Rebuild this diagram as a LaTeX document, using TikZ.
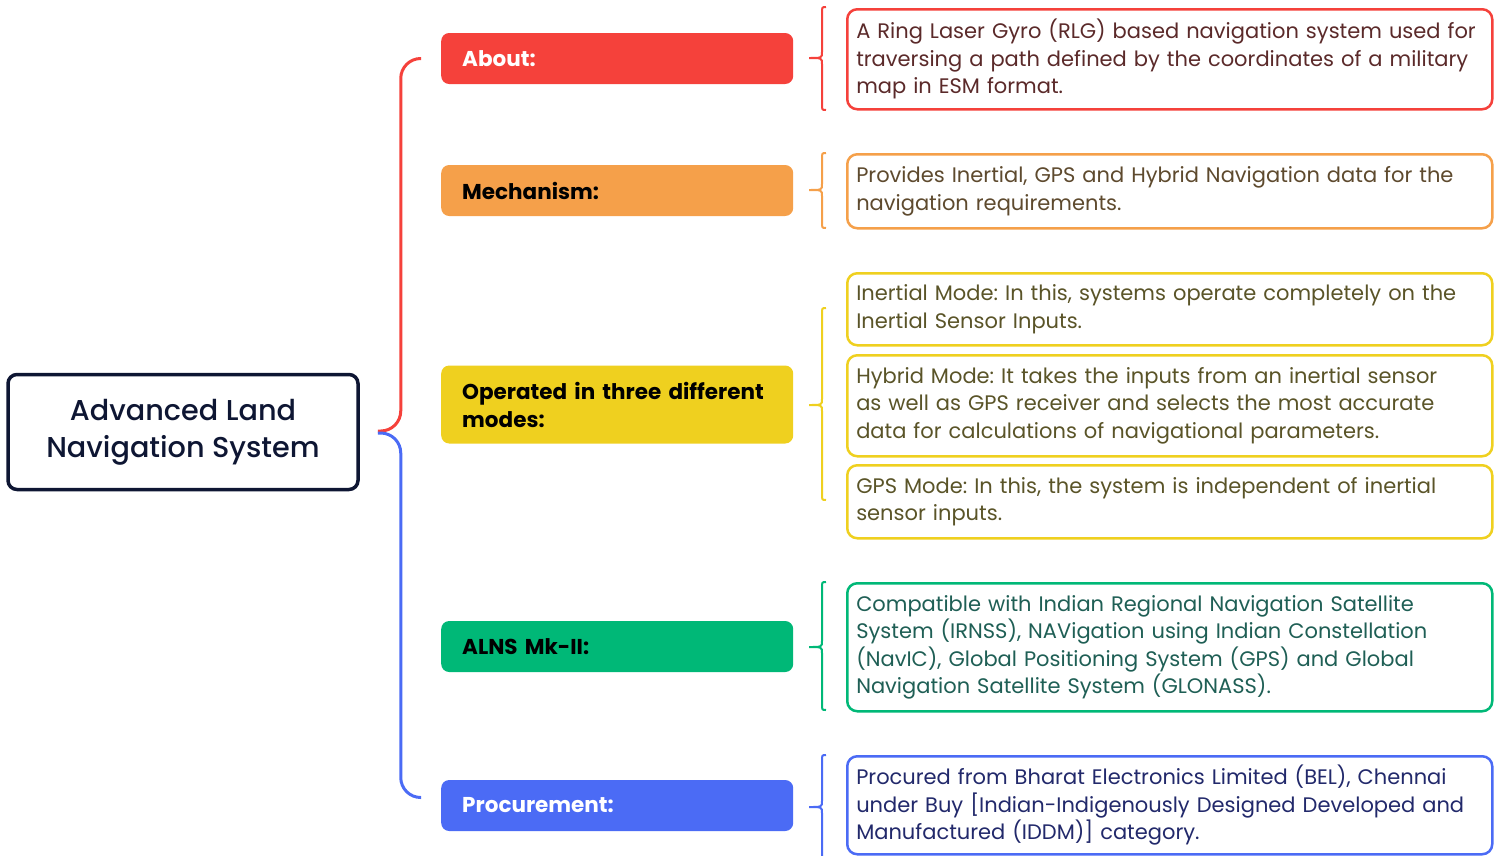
\documentclass[tikz,border=0pt]{standalone}
\usepackage{fontspec}
\setmainfont{Poppins}
\newfontfamily\titlefont{Poppins Medium}
\frenchspacing
\definecolor{cred}{HTML}{F5413B}
\definecolor{corange}{HTML}{F5A04A}
\definecolor{cyellow}{HTML}{EFD01F}
\definecolor{cgreen}{HTML}{00B877}
\definecolor{cblue}{HTML}{4B6BF5}
\definecolor{cnavy}{HTML}{0E1633}
\definecolor{tred}{HTML}{5B2A2A}
\definecolor{torange}{HTML}{5E4A2E}
\definecolor{tyellow}{HTML}{5A5428}
\definecolor{tgreen}{HTML}{1F5F55}
\definecolor{tblue}{HTML}{22296B}
\newcommand\mybrace[5]{%
  \draw[#1, line width=2pt] (#2+4,#3) .. controls (#2,#3) .. (#2,#3+6) -- (#2,#5-6)
    .. controls (#2,#5) .. (#2-13,#5) .. controls (#2,#5) .. (#2,#5+6) -- (#2,#4-6)
    .. controls (#2,#4) .. (#2+4,#4);}
\begin{document}
\begin{tikzpicture}[x=1pt,y=-1pt,
  lbl/.style={rounded corners=8pt, minimum width=352pt, minimum height=51pt, anchor=west,
    text width=310pt, inner xsep=21pt, align=left, font=\fontsize{21.5}{28}\selectfont\bfseries},
  desc/.style={draw, line width=2.5pt, rounded corners=10pt, fill=white, anchor=north west,
    minimum width=645pt, text width=627pt, inner xsep=9pt, inner ysep=0pt, align=left,
    font=\fontsize{21}{27.5}\selectfont},
  conn/.style={line width=3pt, rounded corners=20pt}
]
\useasboundingbox (0,0) rectangle (1500,855);
% main
\node[draw=cnavy, line width=3.5pt, rounded corners=9pt, minimum width=350pt, minimum height=115pt,
  align=center, text=cnavy, font=\titlefont\fontsize{28.7}{37}\selectfont] (main) at (183,432)
  {Advanced Land\\Navigation System};
% labels
\node[lbl, fill=cred, text=white] (about) at (441,58.5) {About:};
\node[lbl, fill=corange, text=black] (mech) at (441,190.5) {Mechanism:};
\node[lbl, fill=cyellow, text=black, minimum height=78pt] (oper) at (441,404.5) {Operated in three different\\modes:};
\node[lbl, fill=cgreen, text=black] (alns) at (441,646.5) {ALNS Mk-II:};
\node[lbl, fill=cblue, text=white] (proc) at (441,805.5) {Procurement:};
% connectors
\coordinate (split) at ([xshift=18pt]main.east);
\draw[conn, cred] ([yshift=1pt]split) -- ++(23,0) |- ([xshift=-20pt]about.west);
\draw[conn, cblue] ([yshift=-1pt]split) -- ++(23,0) |- ([xshift=-20pt,yshift=8pt]proc.west);
% descriptions
\node[desc, draw=cred, text=tred, minimum height=100pt] (d1) at (846,8)
  {A Ring Laser Gyro (RLG) based navigation system used for\\traversing a path defined by the coordinates of a military\\map in ESM format.};
\node[desc, draw=corange, text=torange, minimum height=74pt] (d2) at (846,153)
  {Provides Inertial, GPS and Hybrid Navigation data for the\\navigation requirements.};
\node[desc, draw=cyellow, text=tyellow, minimum height=72pt] (d3) at (846,272)
  {Inertial Mode: In this, systems operate completely on the\\Inertial Sensor Inputs.};
\node[desc, draw=cyellow, text=tyellow, minimum height=101pt] (d4) at (846,354)
  {Hybrid Mode: It takes the inputs from an inertial sensor\\as well as GPS receiver and selects the most accurate\\data for calculations of navigational parameters.};
\node[desc, draw=cyellow, text=tyellow, minimum height=73pt] (d5) at (846,464)
  {GPS Mode: In this, the system is independent of inertial\\sensor inputs.};
\node[desc, draw=cgreen, text=tgreen, minimum height=128pt] (d6) at (846,582)
  {Compatible with Indian Regional Navigation Satellite\\System (IRNSS), NAVigation using Indian Constellation\\(NavIC), Global Positioning System (GPS) and Global\\Navigation Satellite System (GLONASS).};
\node[desc, draw=cblue, text=tblue, minimum height=98pt] (d7) at (846,755)
  {Procured from Bharat Electronics Limited (BEL), Chennai\\under Buy [Indian-Indigenously Designed Developed and\\Manufactured (IDDM)] category.};
% braces
\mybrace{cred}{822}{7}{110}{58}
\mybrace{corange}{822}{153}{228}{190}
\mybrace{cyellow}{822}{308}{500}{405}
\mybrace{cgreen}{822}{582}{710}{647}
\mybrace{cblue}{822}{755}{858}{807}
\end{tikzpicture}
\end{document}
